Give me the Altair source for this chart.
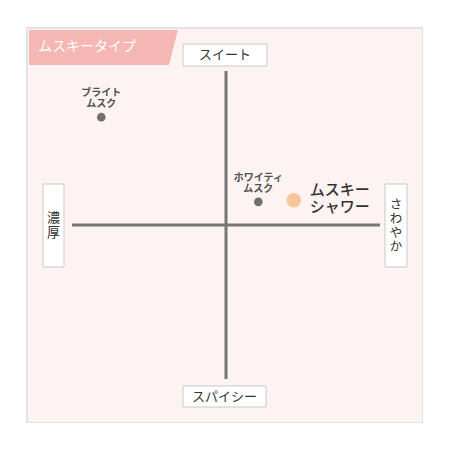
import altair as alt
import pandas as pd

# ---- data ----
TITLE = "ムスキータイプ"
AXIS_TOP = "スイート"
AXIS_BOTTOM = "スパイシー"
AXIS_LEFT = "濃厚"
AXIS_RIGHT = "さわやか"

names = ["ブライト\nムスク", "ホワイティ\nムスク", "ムスキー\nシャワー"]
x_vals = [-0.81, 0.21, 0.44]   # 濃厚 (-) ... さわやか (+)
y_vals = [0.70, 0.15, 0.16]    # スパイシー (-) ... スイート (+)
FEATURED = "ムスキー\nシャワー"

FONT = "Noto Sans CJK JP"
PINK = "#f5b7b3"
GRAY = "#777777"

pts = pd.DataFrame({"name": names, "x": x_vals, "y": y_vals})
pts["featured"] = pts["name"] == FEATURED

axes_df = pd.DataFrame({"x": [-1, 0], "x2": [1, 0], "y": [0, -1], "y2": [0, 1]})

# tag (slanted banner) outline in data units
tag_df = pd.DataFrame({"ty": [1.266, 1.039], "tx": [-0.312, -0.370], "tx2": [-1.279, -1.279]})

xs = alt.Scale(domain=[-1, 1], range=[45, 353])
ys = alt.Scale(domain=[-1, 1], range=[351, 43])

tag = alt.Chart(tag_df).mark_area(color=PINK, orient="horizontal").encode(
    y=alt.Y("ty:Q", scale=ys, axis=None),
    x=alt.X("tx:Q", scale=xs, axis=None),
    x2="tx2:Q",
)

one = alt.Data(values=[{"a": 1}])
tag_text = alt.Chart(one).mark_text(
    text=TITLE, font=FONT, fontSize=14, color="white", align="left", baseline="middle"
).encode(x=alt.value(11), y=alt.value(19))


def label_box(x0, x1, y0, y1, text, vertical=False, lh=15, fs=13):
    box = alt.Chart(one).mark_rect(fill="white", stroke="#c9c9c9", strokeWidth=1).encode(
        x=alt.value(x0), x2=alt.value(x1), y=alt.value(y0), y2=alt.value(y1)
    )
    if vertical:
        t = "\n".join(list(text))
        dy = -(len(text) - 1) * lh / 2
    else:
        t = text
        dy = 0
    txt = alt.Chart(one).mark_text(
        text=t, font=FONT, fontSize=fs, color="#333333", align="center",
        baseline="middle", lineBreak="\n", lineHeight=lh, dy=dy
    ).encode(x=alt.value((x0 + x1) / 2), y=alt.value((y0 + y1) / 2))
    return box + txt


rules = alt.Chart(axes_df).mark_rule(color=GRAY, strokeWidth=3).encode(
    x=alt.X("x:Q", scale=xs, axis=None),
    x2="x2:Q",
    y=alt.Y("y:Q", scale=ys, axis=None),
    y2="y2:Q",
)

small = alt.Chart(pts).transform_filter("!datum.featured")
feat = alt.Chart(pts).transform_filter("datum.featured")

small_pts = small.mark_circle(size=75, color="#707070", opacity=1).encode(
    x=alt.X("x:Q", scale=xs, axis=None), y=alt.Y("y:Q", scale=ys, axis=None)
)
small_txt = small.mark_text(
    font=FONT, fontSize=10, fontWeight="bold", color="#505050", align="center",
    baseline="middle", dy=-24, lineBreak="\n", lineHeight=11
).encode(
    x=alt.X("x:Q", scale=xs, axis=None), y=alt.Y("y:Q", scale=ys, axis=None), text="name:N"
)
feat_pts = feat.mark_circle(size=210, color="#f8c49b", opacity=1).encode(
    x=alt.X("x:Q", scale=xs, axis=None), y=alt.Y("y:Q", scale=ys, axis=None)
)
feat_txt = feat.mark_text(
    font=FONT, fontSize=15, fontWeight=500, color="#333333", align="left",
    baseline="middle", dx=16, dy=-10, lineBreak="\n", lineHeight=17
).encode(
    x=alt.X("x:Q", scale=xs, axis=None), y=alt.Y("y:Q", scale=ys, axis=None), text="name:N"
)

chart = alt.layer(
    tag, tag_text, rules,
    label_box(156, 240, 16, 38, AXIS_TOP),
    label_box(156, 239, 358, 379, AXIS_BOTTOM),
    label_box(16, 37, 156, 239, AXIS_LEFT, vertical=True, lh=15),
    label_box(358, 380, 156, 239, AXIS_RIGHT, vertical=True, lh=14, fs=12.5),
    small_pts, small_txt, feat_pts, feat_txt,
).properties(
    width=396, height=395, autosize="none",
    padding={"left": 19, "top": 20, "right": 0, "bottom": 0},
    background="white",
).configure_view(fill="#fdf3f2", stroke="#e3e3e3", strokeWidth=2)

chart.save("out.html", embed_options={"renderer": "svg", "actions": False})
